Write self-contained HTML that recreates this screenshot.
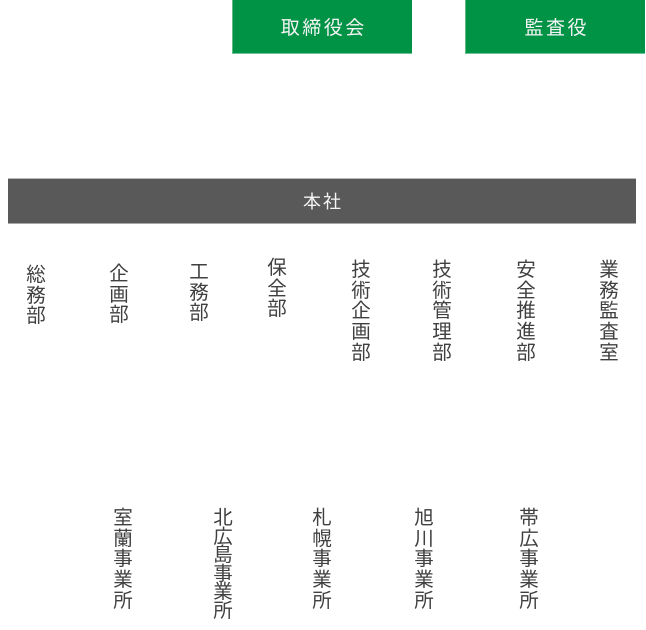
<!DOCTYPE html>
<html lang="ja">
<head>
<meta charset="utf-8">
<style>
  html,body{margin:0;padding:0;background:#fff;}
  body{width:646px;height:630px;position:relative;overflow:hidden;
       font-family:"Liberation Sans","Noto Sans CJK JP",sans-serif;}
  .g{position:absolute;top:0;height:54px;background:#009245;
     border-bottom:1px solid #6cc394;
     color:#f4f4f4;font-size:19px;letter-spacing:2.5px;
     display:flex;align-items:center;justify-content:center;padding-left:2.5px;box-sizing:border-box;}
  .bar{position:absolute;left:8px;top:178px;width:628px;height:46px;background:#595959;
       border-top:1px solid #b8b8b8;border-bottom:1px solid #a8a8a8;box-sizing:border-box;
       color:#f4f4f4;font-size:18px;letter-spacing:2px;padding-left:2px;
       display:flex;align-items:center;justify-content:center;}
  .v{position:absolute;width:30px;text-align:center;color:#404040;font-size:19.5px;}
  .v span{display:block;height:20.7px;line-height:20.7px;white-space:nowrap;}
  .v.t span{height:18.5px;line-height:18.5px;}
</style>
</head>
<body>
  <div class="g" style="left:232px;width:180px;border-left:1px solid #5fb985;">取締役会</div>
  <div class="g" style="left:465px;width:180px;border-left:1px solid #5fb985;">監査役</div>

  <div class="bar">本社</div>

  <div class="v" style="left:21px;top:265px;"><span>総</span><span>務</span><span>部</span></div>
  <div class="v" style="left:104px;top:264px;"><span>企</span><span>画</span><span>部</span></div>
  <div class="v" style="left:184px;top:262px;"><span>工</span><span>務</span><span>部</span></div>
  <div class="v" style="left:262px;top:258px;"><span>保</span><span>全</span><span>部</span></div>
  <div class="v" style="left:346px;top:260px;"><span>技</span><span>術</span><span>企</span><span>画</span><span>部</span></div>
  <div class="v" style="left:427px;top:260px;"><span>技</span><span>術</span><span>管</span><span>理</span><span>部</span></div>
  <div class="v" style="left:511px;top:260px;"><span>安</span><span>全</span><span>推</span><span>進</span><span>部</span></div>
  <div class="v" style="left:594px;top:260px;"><span>業</span><span>務</span><span>監</span><span>査</span><span>室</span></div>

  <div class="v" style="left:108px;top:508px;"><span>室</span><span>蘭</span><span>事</span><span>業</span><span>所</span></div>
  <div class="v t" style="left:208px;top:509px;"><span>北</span><span>広</span><span>島</span><span>事</span><span>業</span><span>所</span></div>
  <div class="v" style="left:307px;top:508px;"><span>札</span><span>幌</span><span>事</span><span>業</span><span>所</span></div>
  <div class="v" style="left:409px;top:508px;"><span>旭</span><span>川</span><span>事</span><span>業</span><span>所</span></div>
  <div class="v" style="left:514px;top:508px;"><span>帯</span><span>広</span><span>事</span><span>業</span><span>所</span></div>
</body>
</html>
